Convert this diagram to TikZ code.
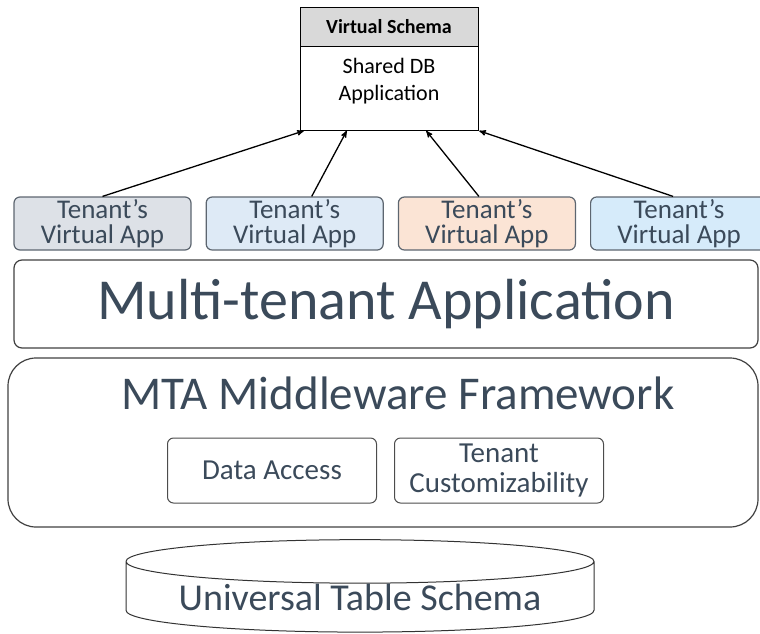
\documentclass[tikz,border=0pt]{standalone}
\usepackage{fontspec}
\setmainfont{Carlito}
\usepackage{tikz}
\usetikzlibrary{positioning}
\usetikzlibrary{arrows,shapes.geometric}

\definecolor{slate}{HTML}{3B4A5A}
\definecolor{edgegray}{HTML}{5D6670}
\definecolor{tgray}{HTML}{DDE1E7}
\definecolor{tblue}{HTML}{DEEAF6}
\definecolor{tpeach}{HTML}{FBE4D5}
\definecolor{tsky}{HTML}{D6EBFA}
\newcommand{\setfs}[2]{\fontsize{#1}{#2}\selectfont}

\begin{document}
\begin{tikzpicture}[x=1pt,y=-1pt,>=stealth',semithick,
	tenant/.style={draw=edgegray, line width=1.2pt, rounded corners=6pt, minimum width=177pt, minimum height=53pt, inner sep=0pt, align=center, text=slate, font=\setfs{27}{25}},
	layer/.style={draw=black!75, line width=1.2pt, inner sep=0pt, text=slate},
	part/.style={draw=black!70, line width=1pt, rounded corners=6pt, minimum width=209pt, minimum height=65pt, inner sep=0pt, align=center, text=slate, font=\setfs{29}{30}}]
				\useasboundingbox (0,0) rectangle (760,633);

				\node[draw, fill=black!15, minimum width=178pt, minimum height=39pt, inner sep=0pt, font=\bfseries\setfs{20}{22}]	(vs)	at (389,26.5) {Virtual Schema};
				\node[draw, below=0pt of vs, minimum width=178pt, minimum height=84pt, inner sep=0pt, align=center, font=\setfs{22}{27}]	(db) {Shared DB\\Application\\[-8pt]};

				\node[tenant, fill=tgray]	(t1)	at (102.5,223.5) {Tenant's\\Virtual App};
				\node[tenant, fill=tblue, right=14pt of t1]	(t2) {Tenant's\\Virtual App};
				\node[tenant, fill=tpeach, right=14pt of t2]	(t3) {Tenant's\\Virtual App};
				\node[tenant, fill=tsky, right=14pt of t3]	(t4) {Tenant's\\Virtual App};

				\node[layer, rounded corners=8pt, minimum width=744pt, minimum height=88pt, font=\setfs{58}{60}]	(mt)	at (386,304) {Multi-tenant Application};

				\node[layer, rounded corners=28pt, minimum width=750pt, minimum height=169pt]	(mta)	at (383,442.5) {};
				\node[text=slate, font=\setfs{47}{50}]	(mtaname)	at (398,393) {MTA Middleware Framework};
				\node[part]	(da)	at (272,470.5) {Data Access};
				\node[part, right=17pt of da]	(tc) {Tenant\\Customizability};

				\node[cylinder, draw=black!80, line width=1pt, shape border rotate=90, aspect=0.12, minimum width=468pt, minimum height=82pt, inner sep=0pt, text=slate, font=\setfs{38}{40}]	(uts)	at (360,597) {Universal Table Schema};

				\path[->, line width=1.3pt]
					(t1.north) edge ([xshift=4pt]db.south west)
					([xshift=17pt]t2.north) edge ([xshift=47pt]db.south west)
					([xshift=-8pt]t3.north) edge ([xshift=-52pt]db.south east)
					([xshift=-6pt]t4.north) edge ([xshift=1pt]db.south east)
					;
\end{tikzpicture}
\end{document}
